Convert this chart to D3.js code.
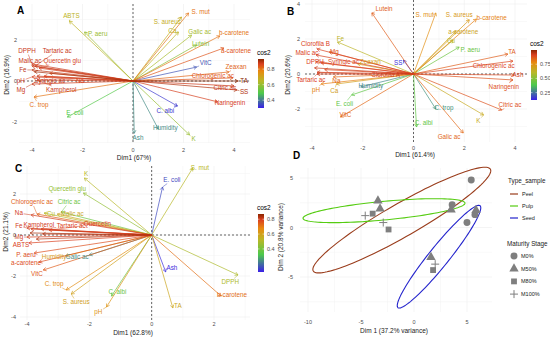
<!DOCTYPE html>
<html>
<head>
<meta charset="utf-8">
<script src="https://cdn.jsdelivr.net/npm/d3@7"></script>
<style>
  body { margin: 0; background: #fff; }
  svg { display: block; font-family: "Liberation Sans", Arial, sans-serif; }
</style>
</head>
<body>
<div id="chart"></div>
<script>
// variable rows: [name, Dim1, Dim2, cos2, label Dim1, label Dim2]
const varsA = [
  ["ABTS", -2.52, 2.93, 0.66, -2.44, 3.17],
  ["P. aeru", -1.92, 2.39, 0.6, -1.4, 2.29],
  ["DPPH", -4.0, 0.83, 0.88, -4.2, 1.46],
  ["Tartaric ac", -3.88, 0.73, 0.88, -3.0, 1.46],
  ["Malic ac", -4.0, 0.73, 0.88, -4.08, 0.98],
  ["Quercetin glu", -3.72, 0.63, 0.87, -2.8, 0.98],
  ["Fe", -4.0, 0.54, 0.89, -4.36, 0.54],
  ["pH", -4.0, 0.2, 0.87, -4.44, 0.0],
  ["Syringic ac", -3.8, 0.24, 0.88, -3.3, 0.0],
  ["Na", -3.52, 0.24, 0.86, -2.1, 0.0],
  ["Mg", -4.0, -0.15, 0.88, -4.44, -0.44],
  ["Kampherol", -3.8, 0.05, 0.88, -2.84, -0.44],
  ["Clorofila B", -3.9, 0.45, 0.91, null, null],
  ["Cu", -3.3, 0.38, 0.85, null, null],
  ["C. trop", -3.92, -0.78, 0.8, -3.72, -1.17],
  ["E. coli", -2.6, -1.76, 0.5, -2.3, -1.56],
  ["S. mut", 2.2, 3.32, 0.8, 2.68, 3.37],
  ["S. aureus", 1.92, 3.12, 0.68, 1.36, 2.88],
  ["Ca", 1.8, 2.39, 0.66, 1.56, 2.44],
  ["Galic ac", 2.32, 2.24, 0.62, 2.64, 2.39],
  ["b-carotene", 3.44, 2.2, 0.8, 4.0, 2.34],
  ["Lutein", 2.52, 1.76, 0.58, 2.68, 1.8],
  ["a-carotene", 3.6, 1.61, 0.84, 4.08, 1.46],
  ["VitC", 2.52, 0.68, 0.36, 2.88, 0.88],
  ["Zeaxan", 3.8, 0.44, 0.82, 4.08, 0.68],
  ["Chlorogenic ac", 3.96, 0.15, 0.84, 3.16, 0.24],
  ["TA", 4.16, 0.0, 0.93, 4.4, 0.0],
  ["Citric ac", 4.0, -0.24, 0.88, 3.64, -0.34],
  ["SS", 4.12, -0.44, 0.9, 4.4, -0.54],
  ["Naringenin", 3.36, -1.02, 0.87, 3.84, -1.07],
  ["C. albi", 1.76, -1.22, 0.33, 1.28, -1.46],
  ["Humidity", 1.0, -2.34, 0.42, 1.28, -2.29],
  ["K", 2.24, -2.63, 0.6, 2.4, -2.8],
  ["Ash", 0.05, -2.55, 0.42, 0.2, -2.75]
];

const varsB = [
  ["Lutein", -1.64, 3.49, 0.86, -1.16, 3.71],
  ["Fe", -3.0, 1.83, 0.62, -2.88, 2.0],
  ["Clorofila B", -3.8, 1.43, 0.91, -3.86, 1.71],
  ["Malic ac", -3.84, 1.09, 0.91, -4.2, 1.2],
  ["Mg", -3.32, 1.26, 0.88, -3.12, 1.26],
  ["DPPH", -3.84, 0.69, 0.91, -3.88, 0.69],
  ["Syringic ac", -3.64, 0.63, 0.9, -2.76, 0.69],
  ["Zeaxan", -2.2, 0.57, 0.7, -1.7, 0.69],
  ["SS", -0.4, 0.8, 0.15, -0.6, 0.63],
  ["Clorofila A", -3.8, 0.1, 0.92, -1.1, -0.06],
  ["Tartaric ac", -3.8, 0.0, 0.91, -4.04, -0.34],
  ["Na", -3.16, -0.17, 0.84, -3.04, -0.4],
  ["pH", -3.64, -0.57, 0.8, -3.84, -0.91],
  ["Ca", -3.04, -0.57, 0.7, -3.12, -0.97],
  ["Humidity", -2.08, -0.74, 0.28, -1.68, -0.69],
  ["E. coli", -2.44, -1.2, 0.42, -2.72, -1.71],
  ["VitC", -2.88, -2.46, 0.84, -2.68, -2.34],
  ["Kampherol", -3.9, 0.35, 0.93, null, null],
  ["Quercetin glu", -3.5, 0.25, 0.9, null, null],
  ["S. mut", 0.88, 3.49, 0.76, 0.44, 3.37],
  ["S. aureus", 2.2, 3.09, 0.72, 1.8, 3.37],
  ["b-carotene", 2.48, 3.14, 0.8, 3.08, 3.2],
  ["a-carotene", 1.68, 2.46, 0.68, 1.96, 2.4],
  ["Cu", 1.56, 1.94, 0.6, 1.48, 1.89],
  ["P. aeru", 1.8, 1.54, 0.45, 2.24, 1.37],
  ["TA", 3.72, 1.14, 0.86, 3.88, 1.26],
  ["Chlorogenic ac", 3.92, 0.74, 0.9, 3.16, 0.46],
  ["Ash", 3.96, -0.06, 0.9, 4.12, -0.06],
  ["Naringenin", 3.92, -0.34, 0.88, 3.56, -0.74],
  ["Citric ac", 3.48, -2.06, 0.88, 3.8, -1.77],
  ["K", 2.76, -2.34, 0.66, 2.56, -2.69],
  ["C. trop", 0.88, -2.0, 0.3, 1.2, -1.94],
  ["C. albi", 0.12, -3.03, 0.42, 0.4, -2.8],
  ["Galic ac", 1.96, -3.37, 0.84, 1.4, -3.6]
];

const varsC = [
  ["K", -2.16, 2.78, 0.52, -2.1, 2.98],
  ["Quercetin glu", -2.19, 2.05, 0.45, -2.71, 2.24],
  ["Chlorogenic ac", -3.68, 1.02, 0.74, -3.84, 1.61],
  ["Citric ac", -2.9, 1.12, 0.38, -2.65, 1.61],
  ["Na", -3.87, 0.98, 0.8, -4.26, 1.07],
  ["Cu", -3.45, 1.07, 0.52, -3.23, 1.02],
  ["Malic ac", -3.03, 1.02, 0.58, -2.55, 1.02],
  ["Fe", -4.0, 0.34, 0.8, -4.26, 0.44],
  ["Kampherol", -3.87, 0.29, 0.8, -3.62, 0.49],
  ["Tartaric ac", -3.55, 0.29, 0.79, -2.58, 0.44],
  ["Quercetin", -3.29, 0.24, 0.79, -1.74, 0.54],
  ["Mg", -4.0, -0.1, 0.8, -4.26, -0.1],
  ["ABTS", -3.94, -0.39, 0.79, -4.19, -0.49],
  ["P. aeru", -3.77, -0.88, 0.77, -4.03, -0.98],
  ["Humidity", -2.77, -1.02, 0.62, -3.13, -1.07],
  ["Galic ac", -2.0, -0.98, 0.24, -2.39, -1.07],
  ["a-carotene", -3.61, -1.32, 0.77, -4.03, -1.37],
  ["VitC", -3.48, -1.71, 0.75, -3.68, -1.9],
  ["C. trop", -2.74, -2.68, 0.66, -3.13, -2.39],
  ["S. aureus", -2.58, -2.88, 0.6, -2.42, -3.27],
  ["pH", -1.45, -3.51, 0.64, -1.71, -3.76],
  ["C. albi", -1.29, -2.98, 0.38, -1.1, -2.78],
  ["Syringic ac", -3.9, 0.1, 0.84, null, null],
  ["Naringenin", -3.7, -0.2, 0.83, null, null],
  ["SS", -3.5, 0.05, 0.82, null, null],
  ["S. mut", 1.32, 3.27, 0.52, 1.55, 3.27],
  ["E. coli", 0.35, 2.34, 0.15, 0.65, 2.68],
  ["Ash", 0.45, -1.8, 0.11, 0.65, -1.61],
  ["TA", 0.68, -3.56, 0.58, 0.84, -3.46],
  ["DPPH", 2.77, -1.95, 0.5, 2.52, -2.29],
  ["b-carotene", 2.23, -2.98, 0.72, 2.58, -2.93]
];

// panel D
const sampleTypes = ["Peel", "Pulp", "Seed"];
const typeColors = ["#9a3d1c", "#55cc11", "#2323cc"];
const stages = ["M0%", "M50%", "M80%", "M100%"];
// ellipse: centre, major half-axis, minor half-axis (Dim1, Dim2 units)
const ellCentre = [[-1.15, 0.75], [-2.83, 1.7], [2.36, -2.95]];
const ellMajor = [[8.35, 5.15], [7.64, 0.75], [3.87, 5.15]];
const ellMinor = [[-0.85, 1.4], [0.08, 0.95], [0.74, -0.62]];
const samples = [
  ["Peel", "M0%", 5.4, 4.8],
  ["Pulp", "M0%", 3.6, 2.3],
  ["Pulp", "M50%", 3.5, 1.8],
  ["Seed", "M0%", 5.0, 0.5],
  ["Seed", "M0%", 5.75, 1.3],
  ["Seed", "M50%", 5.85, 1.75],
  ["Seed", "M50%", 1.6, -3.0],
  ["Seed", "M100%", 2.0, -3.7],
  ["Seed", "M80%", 1.8, -4.3],
  ["Pulp", "M50%", -3.4, 2.7],
  ["Peel", "M50%", -3.2, 1.9],
  ["Pulp", "M80%", -3.9, 1.4],
  ["Pulp", "M100%", -4.6, 1.2],
  ["Peel", "M100%", -2.9, 0.5],
  ["Peel", "M80%", -2.4, -0.2]
];

const svg = d3.select('#chart').append('svg').attr('width', 550).attr('height', 338);

const stops = [0, 0.3, 0.55, 0.75, 0.9, 1];
const stopCols = ['#3a1fe8', '#4cc94c', '#b8b828', '#e88a10', '#da4020', '#8b2500'];
let gradId = 0;

function grid(g, x, y, box, xs, ys) {
  const [L, R, T, B] = box;
  const gx = d3.range(Math.ceil(x.invert(L) / xs) * xs, x.invert(R), xs);
  const gy = d3.range(Math.ceil(y.invert(B) / ys) * ys, y.invert(T), ys);
  g.selectAll(null).data(gx).enter().append('line')
    .attr('x1', d => x(d)).attr('x2', d => x(d)).attr('y1', T).attr('y2', B)
    .attr('stroke', d => Math.abs(d / (xs * 2) - Math.round(d / (xs * 2))) < 1e-6 ? '#e8e8e8' : '#f3f3f3')
    .attr('stroke-width', 0.5);
  g.selectAll(null).data(gy).enter().append('line')
    .attr('y1', d => y(d)).attr('y2', d => y(d)).attr('x1', L).attr('x2', R)
    .attr('stroke', d => Math.abs(d / (ys * 2) - Math.round(d / (ys * 2))) < 1e-6 ? '#e8e8e8' : '#f3f3f3')
    .attr('stroke-width', 0.5);
}

function axes(g, x, y, p) {
  g.selectAll(null).data(p.xt).enter().append('text')
    .attr('x', d => x(d)).attr('y', p.xtY).attr('text-anchor', 'middle')
    .attr('font-size', 5.5).attr('fill', '#4d4d4d').text(d => d);
  g.selectAll(null).data(p.yt).enter().append('text')
    .attr('x', p.ytX).attr('y', d => y(d) + 2).attr('text-anchor', 'end')
    .attr('font-size', 5.5).attr('fill', '#4d4d4d').text(d => d);
  g.append('text').attr('x', p.xlab[0]).attr('y', p.xlab[1]).attr('text-anchor', 'middle')
    .attr('font-size', 6.5).attr('fill', '#222').text(p.xlab[2]);
  g.append('text').attr('transform', `translate(${p.ylab[0]},${p.ylab[1]}) rotate(-90)`)
    .attr('text-anchor', 'middle').attr('font-size', 6.5).attr('fill', '#222').text(p.ylab[2]);
  g.append('text').attr('x', p.tag[0]).attr('y', p.tag[1]).attr('font-size', 10)
    .attr('font-weight', 'bold').text(p.tag[2]);
}

function arrowHead(x1, y1, x2, y2, len) {
  const a = Math.atan2(y2 - y1, x2 - x1);
  const p1 = [x2 - len * Math.cos(a - Math.PI / 6), y2 - len * Math.sin(a - Math.PI / 6)];
  const p2 = [x2 - len * Math.cos(a + Math.PI / 6), y2 - len * Math.sin(a + Math.PI / 6)];
  return `M${p1[0]},${p1[1]}L${x2},${y2}L${p2[0]},${p2[1]}`;
}

function biplot(p, rows) {
  const x = d3.scaleLinear().domain(p.xd).range(p.xr);
  const y = d3.scaleLinear().domain(p.yd).range(p.yr);
  const [L, R, T, B] = p.box;
  const lo = p.cd[0], hi = p.cd[1];
  const col = d3.scaleLinear().domain(stops.map(s => lo + s * (hi - lo))).range(stopCols).clamp(true);
  const g = svg.append('g');
  grid(g, x, y, p.box, p.gs[0], p.gs[1]);

  // zero lines
  g.append('line').attr('x1', L).attr('x2', R).attr('y1', y(0)).attr('y2', y(0))
    .attr('stroke', '#000').attr('stroke-width', 0.6).attr('stroke-dasharray', '2,2');
  g.append('line').attr('x1', x(0)).attr('x2', x(0)).attr('y1', T).attr('y2', B)
    .attr('stroke', '#000').attr('stroke-width', 0.6).attr('stroke-dasharray', '2,2');

  const ordered = rows.slice().sort((a, b) => a[3] - b[3]);
  const arr = g.append('g').selectAll('g').data(ordered).enter().append('g');
  arr.append('line')
    .attr('x1', x(0)).attr('y1', y(0))
    .attr('x2', d => x(d[1])).attr('y2', d => y(d[2]))
    .attr('stroke', d => col(d[3])).attr('stroke-width', 0.7);
  arr.append('path')
    .attr('d', d => arrowHead(x(0), y(0), x(d[1]), y(d[2]), 3.5))
    .attr('fill', 'none').attr('stroke', d => col(d[3])).attr('stroke-width', 0.7);

  const lab = g.append('g').selectAll('g').data(rows.filter(d => d[4] !== null)).enter().append('g');
  lab.each(function (d) {
    const s = d3.select(this);
    const cx = x(d[4]), cy = y(d[5]);
    const t = s.append('text').attr('x', cx).attr('y', cy + 2.2).attr('text-anchor', 'middle')
      .attr('font-size', 6.3).attr('fill', col(d[3])).text(d[0]);
    const bb = t.node().getBBox();
    const ex = x(d[1]), ey = y(d[2]);
    const dx = ex - cx, dy = ey - cy;
    const w = bb.width / 2 + 0.5, h = bb.height / 2;
    const sc = Math.min(dx !== 0 ? w / Math.abs(dx) : Infinity, dy !== 0 ? h / Math.abs(dy) : Infinity);
    if (sc < 0.8) {
      s.insert('line', 'text').attr('x1', cx + sc * dx).attr('y1', cy + sc * dy)
        .attr('x2', ex).attr('y2', ey).attr('stroke', col(d[3])).attr('stroke-width', 0.5);
    }
  });

  axes(g, x, y, p);

  // colour bar
  const id = 'grad' + (gradId++);
  const grad = svg.append('defs').append('linearGradient').attr('id', id)
    .attr('x1', 0).attr('x2', 0).attr('y1', 1).attr('y2', 0);
  grad.selectAll('stop').data(stops).enter().append('stop')
    .attr('offset', d => d).attr('stop-color', (d, i) => stopCols[i]);
  const cb = p.cb;
  const cy = d3.scaleLinear().domain(p.cd).range([cb.y1, cb.y0]);
  g.append('text').attr('x', cb.x - 1).attr('y', cb.y0 - 4).attr('font-size', 6.5).text('cos2');
  g.append('rect').attr('x', cb.x).attr('y', cb.y0).attr('width', 6).attr('height', cb.y1 - cb.y0)
    .attr('fill', `url(#${id})`);
  g.selectAll(null).data(cb.ticks).enter().append('line')
    .attr('x1', cb.x).attr('x2', cb.x + 1.5).attr('y1', d => cy(d)).attr('y2', d => cy(d))
    .attr('stroke', '#fff').attr('stroke-width', 0.5);
  g.selectAll(null).data(cb.ticks).enter().append('line')
    .attr('x1', cb.x + 4.5).attr('x2', cb.x + 6).attr('y1', d => cy(d)).attr('y2', d => cy(d))
    .attr('stroke', '#fff').attr('stroke-width', 0.5);
  g.selectAll(null).data(cb.ticks).enter().append('text')
    .attr('x', cb.x + 9).attr('y', d => cy(d) + 2).attr('font-size', 5.5).attr('fill', '#4d4d4d')
    .text(d => cb.fmt(d));
}

biplot({
  xd: [-4, 4], xr: [32, 234], yd: [-2, 2], yr: [122, 40], box: [19, 250, 4, 143], gs: [1, 1],
  cd: [0.30, 0.93], xt: [-4, -2, 0, 2, 4], yt: [-2, 0, 2], xtY: 152, ytX: 17,
  xlab: [134, 160, 'Dim1 (67%)'], ylab: [9, 75, 'Dim2 (16.9%)'], tag: [17, 14, 'A'],
  cb: { x: 258, y0: 59, y1: 108, ticks: [0.4, 0.6, 0.8], fmt: d3.format('.1f') }
}, varsA);

biplot({
  xd: [-4, 4], xr: [312, 515], yd: [-2, 2], yr: [109, 39], box: [305, 527, 0, 142], gs: [1, 1],
  cd: [0.12, 1.0], xt: [-4, -2, 0, 2, 4], yt: [-2, 0, 2, 4], xtY: 150, ytX: 300,
  xlab: [415, 157, 'Dim1 (61.4%)'], ylab: [290, 75, 'Dim2 (20.6%)'], tag: [287, 15, 'B'],
  cb: { x: 531, y0: 50, y1: 100, ticks: [0.25, 0.5, 0.75], fmt: d3.format('.2f') }
}, varsB);

biplot({
  xd: [-4, 2], xr: [27, 214], yd: [-4, 2], yr: [317, 194], box: [20, 250, 166, 320], gs: [1, 1],
  cd: [0.09, 0.87], xt: [-4, -2, 0, 2], yt: [-4, -2, 0, 2], xtY: 326, ytX: 16,
  xlab: [133, 335, 'Dim1 (62.8%)'], ylab: [8, 232, 'Dim2 (21.1%)'], tag: [15, 172, 'C'],
  cb: { x: 258, y0: 214, y1: 272, ticks: [0.4, 0.6, 0.8], fmt: d3.format('.1f') }
}, varsC);

// panel D: sample scores with ellipses
(function () {
  const p = {
    xt: [-10, -5, 0, 5], yt: [-5, 0, 5], xtY: 324, ytX: 293, box: [300, 492, 168, 312],
    xlab: [394, 333, 'Dim 1 (37.2% variance)'], ylab: [283, 237, 'Dim 2 (20.8% variance)'],
    tag: [293, 159, 'D']
  };
  const x = d3.scaleLinear().domain([-10, 5]).range([308, 467]);
  const y = d3.scaleLinear().domain([-5, 5]).range([277, 178]);
  const g = svg.append('g');
  grid(g, x, y, p.box, 2.5, 2.5);
  axes(g, x, y, p);

  const color = d3.scaleOrdinal().domain(sampleTypes).range(typeColors);
  const line = d3.line().x(d => x(d[0])).y(d => y(d[1])).curve(d3.curveLinearClosed);
  const ts = d3.range(0, 2 * Math.PI, Math.PI / 60);
  sampleTypes.forEach((t, i) => {
    const c = ellCentre[i], a = ellMajor[i], b = ellMinor[i];
    const pts = ts.map(u => [c[0] + a[0] * Math.cos(u) + b[0] * Math.sin(u),
                             c[1] + a[1] * Math.cos(u) + b[1] * Math.sin(u)]);
    g.append('path').attr('d', line(pts)).attr('fill', 'none')
      .attr('stroke', color(t)).attr('stroke-width', 1.1);
  });

  const shapes = {
    'M0%': d3.symbol().type(d3.symbolCircle).size(38),
    'M50%': d3.symbol().type(d3.symbolTriangle).size(38),
    'M80%': d3.symbol().type(d3.symbolSquare).size(34)
  };
  function drawShape(sel, stage, cx, cy, r) {
    if (stage === 'M100%') {
      sel.append('path').attr('d', `M${cx - r},${cy}H${cx + r}M${cx},${cy - r}V${cy + r}`)
        .attr('stroke', '#7f7f7f').attr('stroke-width', 1);
    } else {
      sel.append('path').attr('d', shapes[stage]()).attr('transform', `translate(${cx},${cy})`)
        .attr('fill', '#7f7f7f');
    }
  }
  samples.forEach(s => drawShape(g, s[1], x(s[2]), y(s[3]), 4));

  // legend
  const lg = svg.append('g').attr('font-size', 5.5).attr('fill', '#222');
  lg.append('text').attr('x', 508).attr('y', 183).attr('font-size', 6.3).text('Type_sample');
  sampleTypes.forEach((t, i) => {
    const ly = 194 + i * 12;
    lg.append('line').attr('x1', 510).attr('x2', 518).attr('y1', ly).attr('y2', ly)
      .attr('stroke', color(t)).attr('stroke-width', 1.2);
    lg.append('text').attr('x', 522).attr('y', ly + 2).text(t);
  });
  lg.append('text').attr('x', 507).attr('y', 246).attr('font-size', 6.3).text('Maturity Stage');
  stages.forEach((s, i) => {
    const ly = 256 + i * 12.7;
    drawShape(lg, s, 514, ly, 4);
    lg.append('text').attr('x', 521).attr('y', ly + 2).text(s);
  });
})();
</script>
</body>
</html>
